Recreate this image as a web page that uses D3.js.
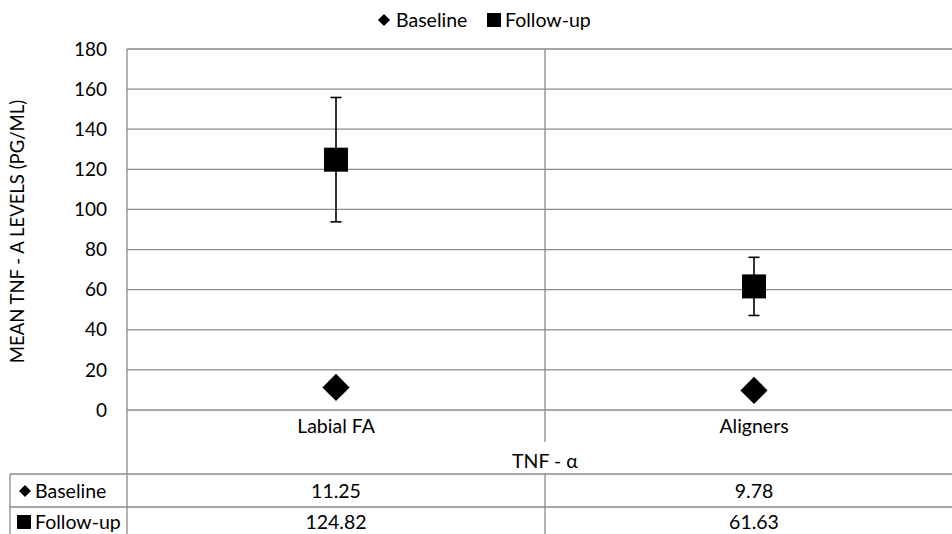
<!DOCTYPE html>
<html>
<head>
<meta charset="utf-8">
<script src="https://d3js.org/d3.v7.min.js"></script>
<style>
  body { margin: 0; background: #fff; }
  svg { display: block; font-family: Lato, "Open Sans", sans-serif; }
</style>
</head>
<body>
<svg id="chart" width="952" height="534"></svg>
<script>
// --- Données ---
const categories = ["Labial FA", "Aligners"];
const baseline = [11.25, 9.78];
const followUp = [124.82, 61.63];
const followUpErr = [31, 14.5];
const yTicks = [0, 20, 40, 60, 80, 100, 120, 140, 160, 180];
const seriesNames = ["Baseline", "Follow-up"];
const axisTitle = "TNF - \u03b1";
const yTitle = "MEAN TNF - A LEVELS (PG/ML)";

const svg = d3.select("#chart");
const gridColor = "#8a8a8a";
const fs = 19.5;

// Zone de tracé
const plotLeft = 127, plotTop = 49, zeroY = 410, plotRight = 963;
const x = d3.scaleBand().domain(categories).range([plotLeft, plotRight]);
const y = d3.scaleLinear().domain([0, 180]).range([zeroY, plotTop]);

// Quadrillage horizontal
svg.append("g").selectAll("line")
  .data(yTicks)
  .join("line")
  .attr("x1", plotLeft).attr("x2", plotRight)
  .attr("y1", d => y(d)).attr("y2", d => y(d))
  .attr("stroke", gridColor).attr("stroke-width", 1.3);

// Étiquettes de l'axe Y
svg.append("g").selectAll("text")
  .data(yTicks)
  .join("text")
  .attr("x", 107).attr("y", d => y(d))
  .attr("dy", "0.35em")
  .attr("text-anchor", "end")
  .attr("font-size", 19)
  .text(d => d);

// Titre axe Y
svg.append("text")
  .attr("transform", `translate(24,${(plotTop + zeroY) / 2 + 2}) rotate(-90)`)
  .attr("text-anchor", "middle")
  .attr("font-size", 18.5)
  .text(yTitle);

// Lignes verticales (bord gauche, séparateurs)
const tableTop = 474, row2 = 507, bottom = 534;
svg.append("line").attr("x1", plotLeft).attr("x2", plotLeft).attr("y1", plotTop).attr("y2", bottom)
  .attr("stroke", gridColor).attr("stroke-width", 1.3);
categories.slice(1).forEach(c => {
  const xs = x(c);
  svg.append("line").attr("x1", xs).attr("x2", xs).attr("y1", plotTop).attr("y2", 442)
    .attr("stroke", gridColor).attr("stroke-width", 1.3);
  svg.append("line").attr("x1", xs).attr("x2", xs).attr("y1", tableTop).attr("y2", bottom)
    .attr("stroke", gridColor).attr("stroke-width", 1.3);
});

// Catégories
svg.append("g").selectAll("text")
  .data(categories)
  .join("text")
  .attr("x", d => x(d) + x.bandwidth() / 2)
  .attr("y", 426).attr("dy", "0.35em")
  .attr("text-anchor", "middle")
  .attr("font-size", fs)
  .text(d => d);

svg.append("text")
  .attr("x", x(categories[1])).attr("y", 461).attr("dy", "0.35em")
  .attr("text-anchor", "middle")
  .attr("font-size", fs)
  .text(axisTitle);

// Tableau de données
[tableTop, row2].forEach(yy => {
  svg.append("line").attr("x1", 10).attr("x2", plotRight).attr("y1", yy).attr("y2", yy)
    .attr("stroke", gridColor).attr("stroke-width", 1.3);
});
svg.append("line").attr("x1", 10).attr("x2", 10).attr("y1", tableTop).attr("y2", bottom)
  .attr("stroke", gridColor).attr("stroke-width", 1.3);

const diamond = d3.symbol().type(d3.symbolDiamond2);
const rows = [
  { name: seriesNames[0], values: baseline, cy: 491, sym: "diamond" },
  { name: seriesNames[1], values: followUp, cy: 522, sym: "square" }
];
rows.forEach(r => {
  if (r.sym === "diamond") {
    svg.append("path").attr("d", diamond.size(90)()).attr("transform", `translate(25,${r.cy})`);
  } else {
    svg.append("rect").attr("x", 17).attr("y", r.cy - 7).attr("width", 14).attr("height", 14);
  }
  svg.append("text").attr("x", 35).attr("y", r.cy).attr("dy", "0.35em")
    .attr("font-size", fs).text(r.name);
  svg.append("g").selectAll("text")
    .data(r.values)
    .join("text")
    .attr("x", (d, i) => x(categories[i]) + x.bandwidth() / 2)
    .attr("y", r.cy).attr("dy", "0.35em")
    .attr("text-anchor", "middle")
    .attr("font-size", fs)
    .text(d => d.toFixed(2));
});

// Barres d'erreur
const cx = i => x(categories[i]) + x.bandwidth() / 2;
const err = svg.append("g").attr("stroke", "#000").attr("stroke-width", 1.6);
followUp.forEach((v, i) => {
  const hi = y(v + followUpErr[i]), lo = y(v - followUpErr[i]);
  err.append("line").attr("x1", cx(i)).attr("x2", cx(i)).attr("y1", hi).attr("y2", lo);
  err.append("line").attr("x1", cx(i) - 5.5).attr("x2", cx(i) + 5.5).attr("y1", hi).attr("y2", hi);
  err.append("line").attr("x1", cx(i) - 5.5).attr("x2", cx(i) + 5.5).attr("y1", lo).attr("y2", lo);
});

// Marqueurs
svg.append("g").selectAll("rect")
  .data(followUp)
  .join("rect")
  .attr("x", (d, i) => cx(i) - 12).attr("y", d => y(d) - 12)
  .attr("width", 24).attr("height", 24)
  .attr("fill", "#000");

svg.append("g").selectAll("path")
  .data(baseline)
  .join("path")
  .attr("d", diamond.size(470)())
  .attr("transform", (d, i) => `translate(${cx(i)},${y(d)})`)
  .attr("fill", "#000");

// Légende
const leg = svg.append("g").attr("font-size", fs);
leg.append("path").attr("d", diamond.size(95)()).attr("transform", "translate(384,20)");
leg.append("text").attr("x", 396).attr("y", 20).attr("dy", "0.35em").text(seriesNames[0]);
leg.append("rect").attr("x", 487).attr("y", 13).attr("width", 14).attr("height", 14);
leg.append("text").attr("x", 505).attr("y", 20).attr("dy", "0.35em").text(seriesNames[1]);
</script>
</body>
</html>
